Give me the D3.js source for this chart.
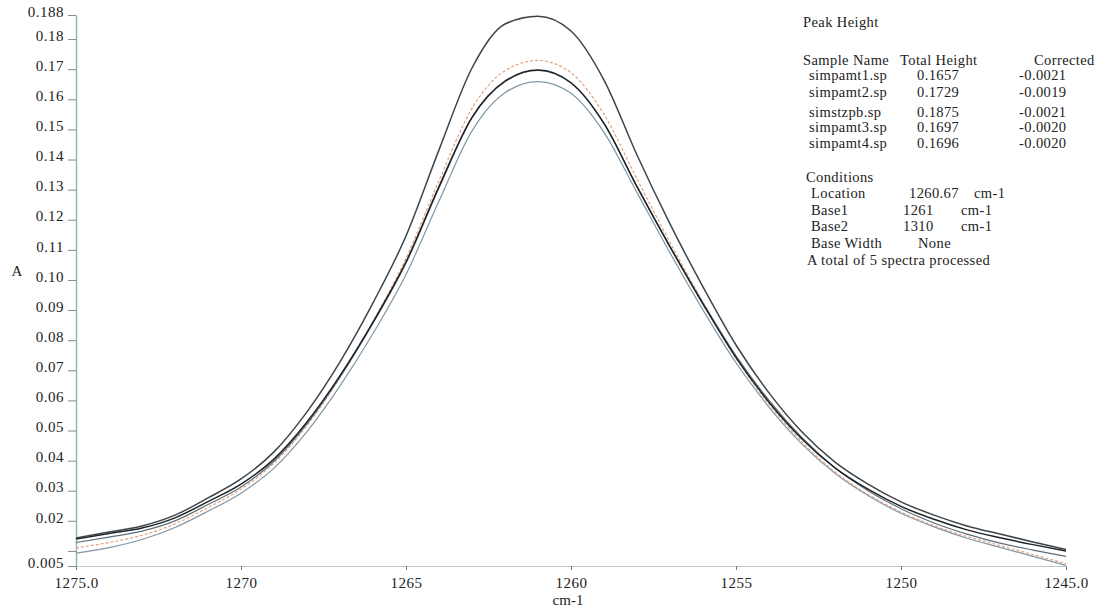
<!doctype html>
<html lang="en">
<head>
<meta charset="utf-8">
<title>Peak Height</title>
<script src="https://d3js.org/d3.v7.min.js"></script>
<style>
  body { margin: 0; background: #fff; }
  svg { display: block; }
  text { font-family: "Liberation Serif", "Times New Roman", serif; fill: #222; }
  .axis text { font-size: 15px; letter-spacing: 0.5px; }
  .legend text { font-size: 14.5px; letter-spacing: 0.4px; }
</style>
</head>
<body>
<svg id="chart" width="1095" height="612"></svg>
<script>
// wavenumbers (cm-1) the curves were read at
var wavenumbers = [1275, 1274, 1273, 1272, 1271, 1270, 1269, 1268, 1267, 1266, 1265, 1264, 1263, 1262, 1261,
                   1260, 1259, 1258, 1257, 1256, 1255, 1254, 1253, 1252, 1251, 1250, 1249, 1248, 1247, 1246, 1245];

// absorbance of each spectrum
var simpamt1 = [0.0093, 0.0111, 0.0138, 0.0178, 0.0232, 0.0292, 0.0375, 0.0496, 0.0648, 0.0822, 0.1018, 0.1262, 0.1495, 0.1622, 0.1659,
                0.1620, 0.1490, 0.1290, 0.1090, 0.0900, 0.0725, 0.0578, 0.0455, 0.0358, 0.0284, 0.0225, 0.0180, 0.0142, 0.0112, 0.0082, 0.0052];
var simpamt2 = [0.0110, 0.0128, 0.0152, 0.0190, 0.0244, 0.0305, 0.0392, 0.0517, 0.0676, 0.0862, 0.1072, 0.1330, 0.1570, 0.1695, 0.1729,
                0.1688, 0.1550, 0.1335, 0.1125, 0.0925, 0.0740, 0.0588, 0.0462, 0.0362, 0.0288, 0.0229, 0.0184, 0.0148, 0.0118, 0.0088, 0.0058];
var simstzpb = [0.0143, 0.0163, 0.0183, 0.0219, 0.0276, 0.0339, 0.0429, 0.0562, 0.0728, 0.0924, 0.1146, 0.1432, 0.1704, 0.1850, 0.1876,
                0.1827, 0.1664, 0.1415, 0.1186, 0.0977, 0.0784, 0.0625, 0.0495, 0.0395, 0.0322, 0.0263, 0.0219, 0.0183, 0.0156, 0.0130, 0.0105];
var simpamt3 = [0.0140, 0.0158, 0.0176, 0.0210, 0.0264, 0.0322, 0.0405, 0.0528, 0.0682, 0.0860, 0.1060, 0.1310, 0.1540, 0.1660, 0.1697,
                0.1655, 0.1520, 0.1310, 0.1110, 0.0920, 0.0742, 0.0594, 0.0472, 0.0376, 0.0305, 0.0248, 0.0205, 0.0170, 0.0144, 0.0121, 0.0100];
var simpamt4 = [0.0128, 0.0146, 0.0166, 0.0200, 0.0254, 0.0312, 0.0398, 0.0522, 0.0677, 0.0856, 0.1056, 0.1306, 0.1538, 0.1659, 0.1696,
                0.1654, 0.1519, 0.1310, 0.1112, 0.0924, 0.0748, 0.0600, 0.0476, 0.0376, 0.0300, 0.0240, 0.0193, 0.0156, 0.0126, 0.0103, 0.0082];

// axis ticks
var yTicks = [0.188, 0.18, 0.17, 0.16, 0.15, 0.14, 0.13, 0.12, 0.11, 0.10, 0.09, 0.08, 0.07, 0.06, 0.05, 0.04, 0.03, 0.02, 0.01, 0.005];
var xTicks = [1275, 1270, 1265, 1260, 1255, 1250, 1245];

// peak height report
var sampleNames = ["simpamt1.sp", "simpamt2.sp", "simstzpb.sp", "simpamt3.sp", "simpamt4.sp"];
var totalHeights = ["0.1657", "0.1729", "0.1875", "0.1697", "0.1696"];
var corrected = ["-0.0021", "-0.0019", "-0.0021", "-0.0020", "-0.0020"];
var conditionNames = ["Location", "Base1", "Base2", "Base Width"];
var conditionValues = ["1260.67", "1261", "1310", "None"];
var conditionUnits = ["cm-1", "cm-1", "cm-1", ""];

var svg = d3.select("#chart");
svg.append("rect").attr("width", 1095).attr("height", 612).attr("fill", "#fff");

var x = d3.scaleLinear().domain([1275, 1245]).range([76, 1066]);
var y = d3.scaleLinear().domain([0.005, 0.188]).range([566, 15]);

// x axis
var xAxis = svg.append("g")
  .attr("class", "axis")
  .attr("transform", "translate(0,566)")
  .call(d3.axisBottom(x).tickValues(xTicks).tickSize(4).tickSizeOuter(0).tickPadding(7)
    .tickFormat(function(d) { return (d === 1275 || d === 1245) ? d.toFixed(1) : d; }));
xAxis.select(".domain").attr("stroke", "#c4c4c4").attr("stroke-width", 1.2);
xAxis.selectAll(".tick line").attr("stroke", "#777");

// y axis
var yAxis = svg.append("g")
  .attr("class", "axis")
  .attr("transform", "translate(76,0)")
  .call(d3.axisLeft(y).tickValues(yTicks).tickSize(8).tickSizeOuter(0).tickPadding(4)
    .tickFormat(function(d) {
      if (d === 0.01) return "";
      if (d === 0.188 || d === 0.005) return d.toFixed(3);
      return d.toFixed(2);
    }));
yAxis.select(".domain").attr("stroke", "#8dbab0").attr("stroke-width", 1.5);
yAxis.selectAll(".tick line").attr("stroke", "#888");
yAxis.selectAll(".tick text").attr("dy", "0.08em");

svg.append("text").attr("class", "axis").attr("x", 568).attr("y", 605)
  .attr("text-anchor", "middle").style("font-size", "15px").text("cm-1");
svg.append("text").attr("class", "axis").attr("x", 17).attr("y", 276)
  .attr("text-anchor", "middle").style("font-size", "15px").text("A");

// spectra
var series = [
  { name: "simpamt1.sp", values: simpamt1, color: "#7f97a6", width: 1.2, dash: null },
  { name: "simpamt2.sp", values: simpamt2, color: "#e3a17c", width: 1.2, dash: "3,2" },
  { name: "simpamt4.sp", values: simpamt4, color: "#5d6e79", width: 1.2, dash: null },
  { name: "simpamt3.sp", values: simpamt3, color: "#1f2226", width: 1.5, dash: null },
  { name: "simstzpb.sp", values: simstzpb, color: "#3c454c", width: 1.5, dash: null }
];

var line = d3.line()
  .x(function(d, i) { return x(wavenumbers[i]); })
  .y(function(d) { return y(d); })
  .curve(d3.curveMonotoneX);

svg.selectAll(".spectrum")
  .data(series)
  .enter().append("path")
  .attr("class", "spectrum")
  .attr("fill", "none")
  .attr("stroke", function(d) { return d.color; })
  .attr("stroke-width", function(d) { return d.width; })
  .attr("stroke-dasharray", function(d) { return d.dash; })
  .attr("d", function(d) { return line(d.values); });

// report text on the right
var legend = svg.append("g").attr("class", "legend");
legend.append("text").attr("x", 803).attr("y", 27).text("Peak Height");
legend.append("text").attr("x", 803).attr("y", 65).text("Sample Name");
legend.append("text").attr("x", 900).attr("y", 65).text("Total Height");
legend.append("text").attr("x", 1034).attr("y", 65).text("Corrected");

var rowY = [80, 96.5, 116.5, 132, 147.5];
sampleNames.forEach(function(name, i) {
  legend.append("text").attr("x", 809).attr("y", rowY[i]).text(name);
  legend.append("text").attr("x", 917).attr("y", rowY[i]).text(totalHeights[i]);
  legend.append("text").attr("x", 1019).attr("y", rowY[i]).text(corrected[i]);
});

legend.append("text").attr("x", 806).attr("y", 182).text("Conditions");
conditionNames.forEach(function(name, i) {
  var yy = 198 + i * 16.6;
  legend.append("text").attr("x", 811).attr("y", yy).text(name);
  legend.append("text").attr("x", i === 0 ? 909 : (i === 3 ? 918 : 903)).attr("y", yy).text(conditionValues[i]);
  legend.append("text").attr("x", i === 0 ? 974 : 961).attr("y", yy).text(conditionUnits[i]);
});
legend.append("text").attr("x", 807).attr("y", 265).text("A total of 5 spectra processed");
</script>
</body>
</html>
